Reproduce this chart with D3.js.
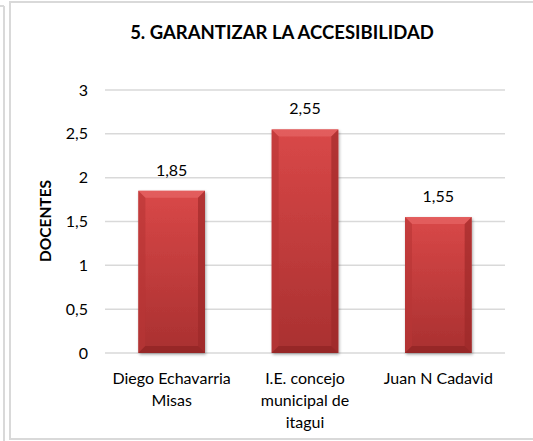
<!DOCTYPE html>
<html>
<head>
    <meta charset="utf-8">
    <title>Garantizar la accesibilidad</title>
    <style>
        body {
            margin: 0;
            background: #ffffff;
        }
        svg {
            display: block;
            font-family: Lato, "Open Sans", sans-serif;
        }
        .grid line {
            stroke: #d9d9d9;
            stroke-width: 1.5px;
        }
    </style>
    <script src="https://cdn.jsdelivr.net/npm/d3@7"></script>
</head>
<body>
<script>
    // data
    const categories = [["Diego Echavarria", "Misas"], ["I.E. concejo", "municipal de", "itagui"], ["Juan N Cadavid"]];
    const values = [1.85, 2.55, 1.55];
    const valueLabels = ["1,85", "2,55", "1,55"];
    const yTicks = [0, 0.5, 1, 1.5, 2, 2.5, 3];
    const yTickLabels = ["0", "0,5", "1", "1,5", "2", "2,5", "3"];

    const width = 533,
        height = 441;

    const svg = d3.select('body').append('svg')
        .attr('width', width)
        .attr('height', height);

    // frame lines
    svg.append('line').attr('x1', 4).attr('x2', 4).attr('y1', 6).attr('y2', height)
        .attr('stroke', '#d9d9d9').attr('stroke-width', 2);
    svg.append('line').attr('x1', 0).attr('x2', 4).attr('y1', 6).attr('y2', 6)
        .attr('stroke', '#d9d9d9').attr('stroke-width', 2);
    svg.append('path')
        .attr('d', 'M' + width + ',2 H10 V439 H' + width)
        .attr('fill', 'none')
        .attr('stroke', '#d9d9d9').attr('stroke-width', 2);

    const x = d3.scaleBand()
        .domain(d3.range(values.length))
        .range([105, 505])
        .paddingInner(0.5)
        .paddingOuter(0.25);

    const y = d3.scaleLinear()
        .domain([0, 3])
        .range([353, 90]);

    // title
    svg.append('text')
        .attr('x', 282)
        .attr('y', 39)
        .attr('text-anchor', 'middle')
        .attr('font-weight', 'bold')
        .attr('font-size', '18.5px')
        .attr('fill', '#000')
        .text('5. GARANTIZAR LA ACCESIBILIDAD');

    // gridlines
    svg.append('g')
        .attr('class', 'grid')
        .selectAll('line')
        .data(yTicks)
        .enter().append('line')
        .attr('x1', 105)
        .attr('x2', 505)
        .attr('y1', d => y(d))
        .attr('y2', d => y(d));

    // y tick labels
    svg.append('g')
        .selectAll('text')
        .data(yTicks)
        .enter().append('text')
        .attr('x', 88)
        .attr('y', d => y(d) + 5.5)
        .attr('text-anchor', 'end')
        .attr('font-size', '16px')
        .attr('fill', '#000')
        .text((d, i) => yTickLabels[i]);

    // y axis title
    svg.append('text')
        .attr('transform', 'translate(51,221) rotate(-90)')
        .attr('text-anchor', 'middle')
        .attr('font-weight', 'bold')
        .attr('font-size', '15.5px')
        .attr('fill', '#000')
        .text('DOCENTES');

    // gradients
    const defs = svg.append('defs');
    const grad = defs.append('linearGradient')
        .attr('id', 'barGrad')
        .attr('x1', 0).attr('x2', 0).attr('y1', 0).attr('y2', 1);
    grad.append('stop').attr('offset', '0%').attr('stop-color', '#d94848');
    grad.append('stop').attr('offset', '100%').attr('stop-color', '#a93030');

    const filt = defs.append('filter').attr('id', 'shadow')
        .attr('x', '-10%').attr('y', '-10%').attr('width', '130%').attr('height', '130%');
    filt.append('feDropShadow')
        .attr('dx', 1).attr('dy', 1.5).attr('stdDeviation', 1.5)
        .attr('flood-color', '#000').attr('flood-opacity', 0.35);

    // bars
    const bev = 7;
    const bars = svg.append('g')
        .selectAll('g')
        .data(values)
        .enter().append('g');

    bars.append('rect')
        .attr('x', (d, i) => x(i))
        .attr('y', d => y(d))
        .attr('width', x.bandwidth())
        .attr('height', d => y(0) - y(d))
        .attr('fill', 'url(#barGrad)')
        .attr('filter', 'url(#shadow)');

    // bevel: top light, sides darker, bottom darkest
    bars.append('path')
        .attr('d', (d, i) => {
            const x0 = x(i), x1 = x(i) + x.bandwidth(), y0 = y(d);
            return 'M' + x0 + ',' + y0 + 'L' + x1 + ',' + y0 + 'L' + (x1 - bev) + ',' + (y0 + bev) + 'L' + (x0 + bev) + ',' + (y0 + bev) + 'Z';
        })
        .attr('fill', '#e46060')
        .attr('opacity', 0.85);
    bars.append('path')
        .attr('d', (d, i) => {
            const x0 = x(i), y0 = y(d), y1 = y(0);
            return 'M' + x0 + ',' + y0 + 'L' + (x0 + bev) + ',' + (y0 + bev) + 'L' + (x0 + bev) + ',' + (y1 - bev) + 'L' + x0 + ',' + y1 + 'Z';
        })
        .attr('fill', '#b83636')
        .attr('opacity', 0.6);
    bars.append('path')
        .attr('d', (d, i) => {
            const x1 = x(i) + x.bandwidth(), y0 = y(d), y1 = y(0);
            return 'M' + x1 + ',' + y0 + 'L' + (x1 - bev) + ',' + (y0 + bev) + 'L' + (x1 - bev) + ',' + (y1 - bev) + 'L' + x1 + ',' + y1 + 'Z';
        })
        .attr('fill', '#9a2626')
        .attr('opacity', 0.6);
    bars.append('path')
        .attr('d', (d, i) => {
            const x0 = x(i), x1 = x(i) + x.bandwidth(), y1 = y(0);
            return 'M' + x0 + ',' + y1 + 'L' + (x0 + bev) + ',' + (y1 - bev) + 'L' + (x1 - bev) + ',' + (y1 - bev) + 'L' + x1 + ',' + y1 + 'Z';
        })
        .attr('fill', '#8a2020')
        .attr('opacity', 0.6);

    // value labels
    bars.append('text')
        .attr('x', (d, i) => x(i) + x.bandwidth() / 2)
        .attr('y', d => y(d) - 15)
        .attr('text-anchor', 'middle')
        .attr('font-size', '16px')
        .attr('fill', '#000')
        .text((d, i) => valueLabels[i]);

    // category labels
    const cat = svg.append('g')
        .selectAll('text')
        .data(categories)
        .enter().append('text')
        .attr('x', (d, i) => x(i) + x.bandwidth() / 2)
        .attr('y', 384)
        .attr('text-anchor', 'middle')
        .attr('font-size', '16px')
        .attr('fill', '#000');

    cat.selectAll('tspan')
        .data(d => d)
        .enter().append('tspan')
        .attr('x', function() { return d3.select(this.parentNode).attr('x'); })
        .attr('dy', (d, i) => i === 0 ? 0 : 22)
        .text(d => d);
</script>
</body>
</html>
